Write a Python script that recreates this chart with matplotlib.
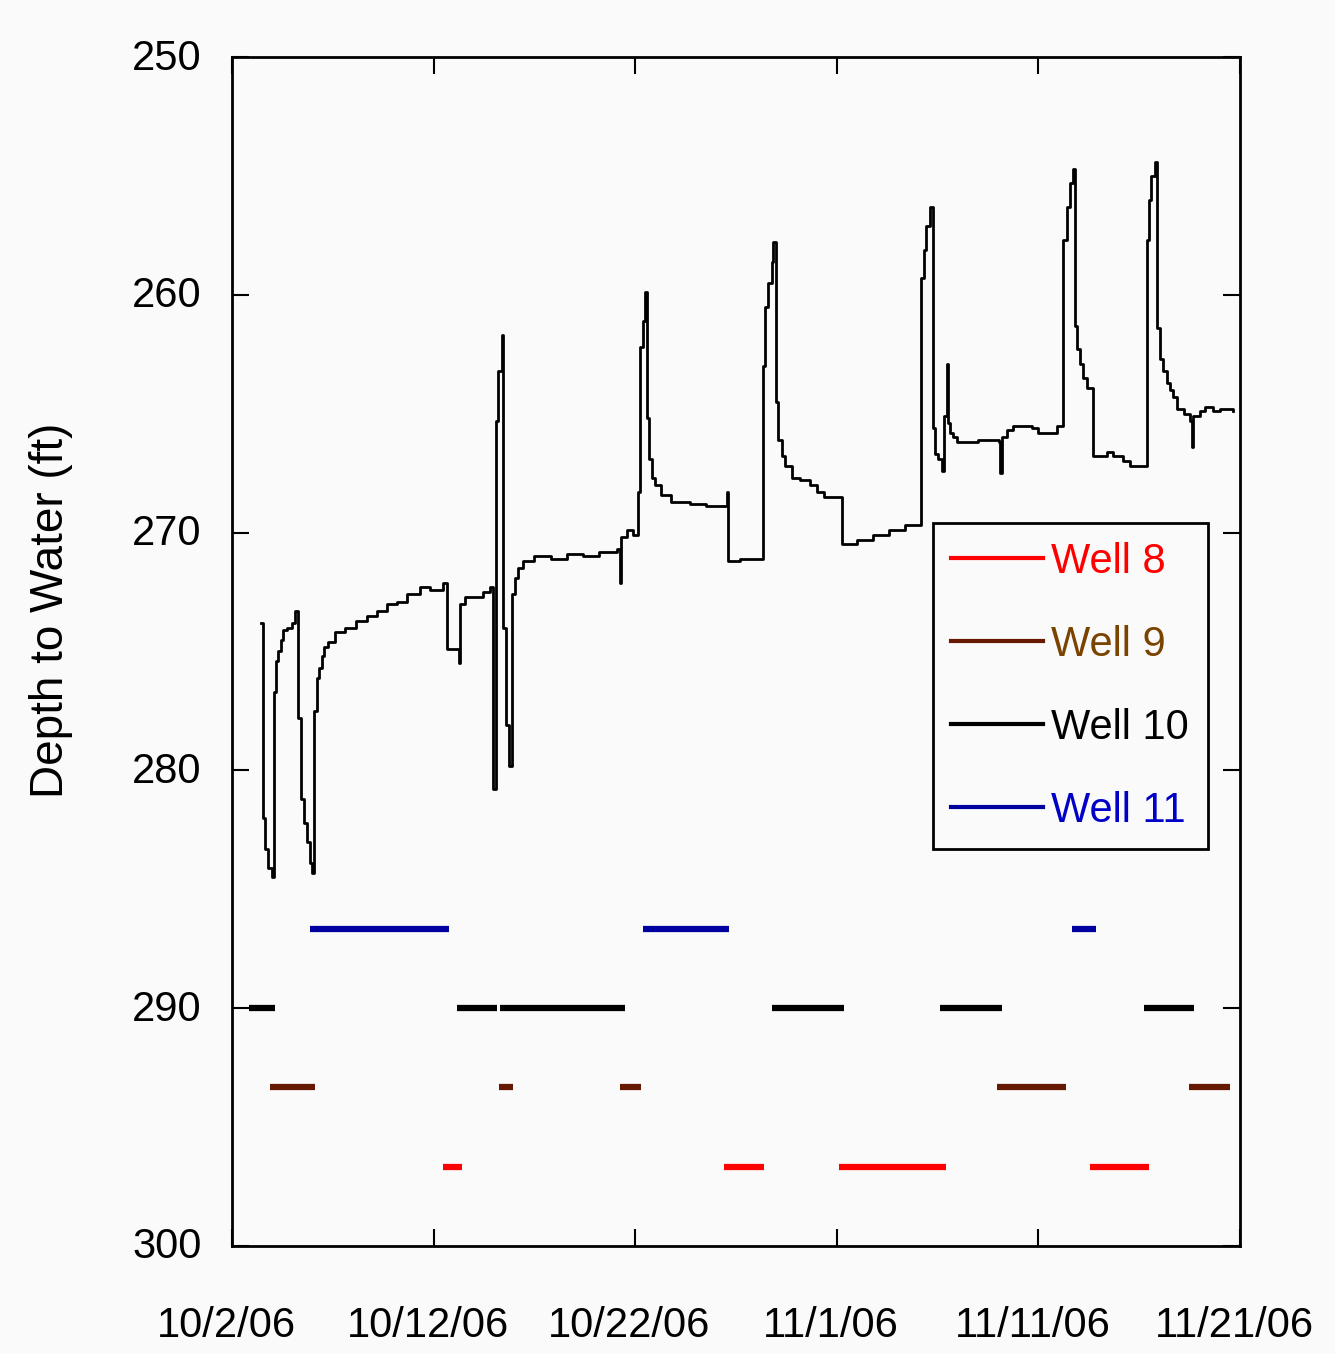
import datetime as dt
import matplotlib
matplotlib.use("Agg")
import matplotlib.pyplot as plt
import matplotlib.transforms as mtransforms
from matplotlib.lines import Line2D

plt.rcParams['font.family'] = ['Liberation Sans', 'DejaVu Sans']

start = dt.datetime(2006, 10, 2)

# water level trace (days since 10/2/06, depth in ft)
line_days = [1.44, 1.52, 1.55, 1.64, 1.80, 1.97, 2.07, 2.18, 2.30, 2.41, 2.55, 2.74, 2.96, 3.12,
             3.29, 3.41, 3.57, 3.74, 3.87, 3.98, 4.08, 4.20, 4.33, 4.45, 4.58, 4.78, 5.11, 5.60,
             6.15, 6.68, 7.18, 7.67, 8.17, 8.66, 9.33, 9.82, 10.48, 10.68, 11.28, 11.33, 11.56,
             12.47, 12.80, 12.93, 13.08, 13.21, 13.38, 13.46, 13.59, 13.76, 13.87, 14.04, 14.20,
             14.45, 15.0, 15.8, 16.6, 17.4, 18.2, 19.08, 19.25, 19.30, 19.58, 19.90, 20.15, 20.24,
             20.40, 20.50, 20.57, 20.70, 20.85, 21.00, 21.30, 21.80, 22.70, 23.50, 24.55, 24.60,
             25.20, 26.36, 26.45, 26.60, 26.77, 26.85, 26.98, 27.10, 27.27, 27.43, 27.77, 28.18,
             28.68, 29.00, 29.35, 30.24, 31.0, 31.8, 32.6, 33.4, 34.16, 34.20, 34.33, 34.45, 34.60,
             34.79, 34.87, 35.04, 35.20, 35.32, 35.45, 35.50, 35.62, 35.78, 35.95, 37.00, 38.05,
             38.10, 38.18, 38.43, 38.76, 39.70, 40.00, 40.90, 41.24, 41.40, 41.57, 41.70, 41.82,
             41.90, 42.07, 42.23, 42.40, 42.72, 43.40, 43.72, 44.20, 44.55, 45.37, 45.50, 45.60,
             45.77, 45.90, 46.03, 46.20, 46.37, 46.53, 46.70, 46.87, 47.20, 47.53, 47.60, 47.68,
             48.00, 48.25, 48.66, 49.00, 49.67]
line_depth = [273.8, 277.5, 282.0, 283.3, 284.1, 284.5, 276.7, 275.4, 275.0, 274.5, 274.1, 274.0, 273.8, 273.3,
              277.8, 281.2, 282.2, 283.0, 283.9, 284.3, 277.5, 276.1, 275.7, 275.2, 274.8, 274.6, 274.2, 274.0,
              273.7, 273.5, 273.3, 273.0, 272.9, 272.6, 272.3, 272.4, 272.1, 274.9, 275.5, 273.0, 272.7,
              272.5, 272.3, 280.8, 265.3, 263.2, 261.7, 274.0, 278.1, 279.8, 272.6, 271.9, 271.5,
              271.2, 271.0, 271.1, 270.9, 271.0, 270.8, 270.7, 272.1, 270.2, 269.9, 270.1, 268.3, 262.2,
              261.1, 259.9, 265.2, 266.9, 267.7, 268.0, 268.4, 268.7, 268.8, 268.9, 268.3, 271.2,
              271.1, 263.0, 260.5, 259.5, 258.6, 257.8, 264.5, 266.1, 266.8, 267.2, 267.7, 267.8,
              268.0, 268.3, 268.5, 270.5, 270.3, 270.1, 269.9, 269.7, 267.2, 259.3, 258.1, 257.1, 256.3,
              265.6, 266.7, 266.9, 267.4, 265.1, 262.9, 265.4, 265.8, 266.0, 266.2, 266.1, 266.2,
              267.5, 266.0, 265.7, 265.5, 265.6, 265.8, 265.5, 257.7, 256.3, 255.3, 254.7, 261.3,
              262.3, 262.9, 263.5, 263.9, 266.8, 266.6, 266.8, 267.0, 267.2, 257.7, 256.0, 255.0,
              254.4, 261.4, 262.7, 263.2, 263.7, 264.0, 264.3, 264.8, 265.0, 265.3, 266.4, 265.1,
              264.9, 264.7, 264.9, 264.8, 264.9]

# pumping periods per well (start day, end day)
well_names = ["Well 8", "Well 9", "Well 10", "Well 11"]
well_colors = ["#ff0000", "#661800", "#000000", "#0000a0"]
well_text_colors = ["#ff0000", "#7a4300", "#000000", "#0000c8"]
well_levels = [296.67, 293.33, 290.0, 286.67]
well8_on = [(10.47, 11.4), (24.39, 26.4), (30.11, 35.4), (42.57, 45.5)]
well9_on = [(1.88, 4.12), (13.24, 13.94), (19.25, 20.29), (37.94, 41.39), (47.49, 49.49)]
well10_on = [(0.84, 2.13), (11.16, 13.14), (13.3, 19.5), (26.78, 30.37), (35.14, 38.21), (45.23, 47.74)]
well11_on = [(3.87, 10.76), (20.4, 24.67), (41.65, 42.86)]
well_periods = [well8_on, well9_on, well10_on, well11_on]

tick_days = [0, 10, 20, 30, 40, 50]
tick_labels = ["10/2/06", "10/12/06", "10/22/06", "11/1/06", "11/11/06", "11/21/06"]
y_ticks = [250, 260, 270, 280, 290, 300]


def to_date(d):
    return start + dt.timedelta(days=d)


bg = "#fafafa"
fig = plt.figure(figsize=(13.35, 13.54), dpi=100, facecolor=bg)
ax = fig.add_axes([0.1738, 0.0798, 0.755, 0.8781], facecolor=bg)

ax.plot([to_date(d) for d in line_days], line_depth, color="black", lw=2.0, drawstyle="steps-post")

for periods, lvl, col in zip(well_periods, well_levels, well_colors):
    for s, e in periods:
        ax.plot([to_date(s), to_date(e)], [lvl, lvl], color=col, lw=4.5, solid_capstyle="butt")

ax.set_xlim(to_date(0), to_date(50))
ax.set_ylim(300, 250)
ax.set_yticks(y_ticks)
ax.set_xticks([to_date(d) for d in tick_days])
ax.set_xticklabels(tick_labels)

ax.tick_params(direction="in", length=12, width=1.5, labelsize=30, top=True, right=True)
ax.tick_params(axis="y", pad=22)
ax.tick_params(axis="x", pad=43)
shift_x = mtransforms.ScaledTranslation(-6 / 100, 0, fig.dpi_scale_trans)
for t in ax.get_xticklabels():
    t.set_transform(t.get_transform() + shift_x)
shift_y = mtransforms.ScaledTranslation(0, 3 / 100, fig.dpi_scale_trans)
for t in ax.get_yticklabels():
    t.set_transform(t.get_transform() + shift_y)
for sp in ax.spines.values():
    sp.set_linewidth(2)

ax.set_ylabel("Depth to Water (ft)", fontsize=33)
ax.yaxis.set_label_coords(-0.158, 0.535)

handles = [Line2D([], [], color=c, lw=3) for c in well_colors]
leg = ax.legend(handles, well_names, loc="upper left", bbox_to_anchor=(0.695, 0.608),
                borderaxespad=0, fontsize=30, handlelength=2.2, handletextpad=0.2,
                labelspacing=1.03, fancybox=False, framealpha=1, facecolor=bg,
                edgecolor="black", borderpad=0.45)
leg.get_frame().set_linewidth(2)
for txt, c in zip(leg.get_texts(), well_text_colors):
    txt.set_color(c)

fig.savefig("out.png", dpi=100, facecolor=bg)
